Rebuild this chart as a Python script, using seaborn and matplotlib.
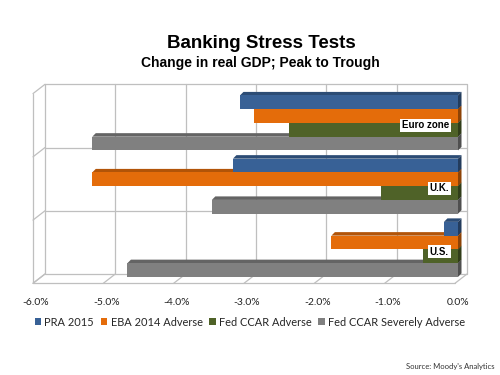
import numpy as np
import pandas as pd
import matplotlib
matplotlib.use("Agg")
import matplotlib.pyplot as plt
import seaborn as sns
from matplotlib.lines import Line2D
from matplotlib.patches import Polygon, Patch
from matplotlib.transforms import IdentityTransform
from matplotlib.colors import to_rgb

# ---- data ----
regions = ["Euro zone", "U.K.", "U.S."]
series = ["PRA 2015", "EBA 2014 Adverse", "Fed CCAR Adverse", "Fed CCAR Severely Adverse"]
pra_2015 = [-3.1, -3.2, -0.2]
eba_2014_adverse = [-2.9, -5.2, -1.8]
fed_ccar_adverse = [-2.4, -1.1, -0.5]
fed_ccar_severely_adverse = [-5.2, -3.5, -4.7]
xticks = [-6, -5, -4, -3, -2, -1, 0]
xticklabels = ["-6.0%", "-5.0%", "-4.0%", "-3.0%", "-2.0%", "-1.0%", "0.0%"]
colors = ["#386196", "#E46C0A", "#4F6228", "#808080"]

values = [pra_2015, eba_2014_adverse, fed_ccar_adverse, fed_ccar_severely_adverse]
df = pd.DataFrame({
    "region": [r for s in series for r in regions],
    "series": [s for s in series for r in regions],
    "value": [v for vals in values for v in vals],
})

sns.set_theme(style="white")
plt.rcParams["font.family"] = ["Liberation Sans", "DejaVu Sans"]

W, H = 500, 375
fig = plt.figure(figsize=(W / 100, H / 100), dpi=100)
fig.patch.set_facecolor("white")
ax = fig.add_axes([36 / W, 1 - 281 / H, (458 - 36) / W, (281 - 91.3) / H])

sns.barplot(data=df, y="region", x="value", hue="series", order=regions,
            hue_order=series, palette=colors, saturation=1, width=0.87,
            orient="h", ax=ax, legend=False, linewidth=0, zorder=3)

ax.set_xlim(-6, 0)
ax.set_ylim(2.5, -0.5)
ax.set_autoscale_on(False)
ax.patch.set_alpha(0)
for s in ax.spines.values():
    s.set_visible(False)
ax.set_xlabel("")
ax.set_ylabel("")
ax.set_yticks([])
ax.set_xticks(xticks)
ax.set_xticklabels(xticklabels, fontsize=7.5, family=["Lato", "DejaVu Sans"], color="#222222")
ax.tick_params(axis="x", length=0, pad=12)

# ---- pseudo-3D walls ----
BACK = (9, 7)
FRONT = (-3, -2.3)
gcol = "#BFBFBF"


def pt(x, y, off):
    X, Y = ax.transData.transform((x, y))
    return X + off[0], Y + off[1]


def seg(pts):
    xs = [p[0] for p in pts]
    ys = [p[1] for p in pts]
    ln = Line2D(xs, ys, transform=IdentityTransform(), color=gcol, lw=0.9,
                zorder=0.5, clip_on=False)
    ax.add_line(ln)


xmin, xmax = xticks[0], xticks[-1]
ytop, ybot = -0.5, len(regions) - 0.5
# back wall outline
seg([pt(xmin, ytop, BACK), pt(xmax, ytop, BACK), pt(xmax, ybot, BACK),
     pt(xmin, ybot, BACK), pt(xmin, ytop, BACK)])
for x in xticks[1:-1]:
    seg([pt(x, ytop, BACK), pt(x, ybot, BACK)])
for y in np.arange(0.5, len(regions) - 0.5, 1.0):
    seg([pt(xmin, y, BACK), pt(xmax, y, BACK)])
# left wall
seg([pt(xmin, ytop, FRONT), pt(xmin, ybot, FRONT)])
for y in np.arange(ytop, ybot + 0.01, 1.0):
    seg([pt(xmin, y, FRONT), pt(xmin, y, BACK)])
# floor
seg([pt(xmin, ybot, FRONT), pt(xmax, ybot, FRONT)])
for x in xticks:
    seg([pt(x, ybot, FRONT), pt(x, ybot, BACK)])

# ---- bar depth faces ----
d = 3.5
bars = [p for p in ax.patches if abs(p.get_width()) > 0]
for p in bars:
    x0, w, y0, h = p.get_x(), p.get_width(), p.get_y(), p.get_height()
    xa, ya = ax.transData.transform((min(x0, x0 + w), y0))
    xb, yb = ax.transData.transform((max(x0, x0 + w), y0 + h))
    L, R = min(xa, xb), max(xa, xb)
    B, T = min(ya, yb), max(ya, yb)
    c = np.array(to_rgb(p.get_facecolor()))
    top = Polygon([(L, T), (R, T), (R + d, T + d), (L + d, T + d)], closed=True,
                  transform=IdentityTransform(), fc=c * 0.78, ec="none", zorder=2.5,
                  clip_on=False)
    side = Polygon([(R, B), (R, T), (R + d, T + d), (R + d, B + d)], closed=True,
                   transform=IdentityTransform(), fc=c * 0.62, ec="none", zorder=2.6,
                   clip_on=False)
    ax.add_patch(top)
    ax.add_patch(side)

ax.set_xlim(-6, 0)
ax.set_ylim(2.5, -0.5)

# ---- category labels ----
for i, r in enumerate(regions):
    ax.annotate(r, xy=(0, i), xytext=(-9, -2.3), textcoords="offset pixels",
                ha="right", va="center", fontsize=7, fontweight="bold",
                color="black", zorder=6,
                bbox=dict(fc="white", ec="none", pad=1.2))

# ---- titles ----
fig.text(0.523, 1 - 43 / H, "Banking Stress Tests", ha="center", va="center",
         fontsize=13.5, fontweight="bold", color="black")
fig.text(0.521, 1 - 62.7 / H, "Change in real GDP; Peak to Trough", ha="center",
         va="center", fontsize=10, fontweight="bold", color="black")

# ---- legend ----
handles = [Patch(fc=c, ec="none") for c in colors]
fig.legend(handles, series, loc="center", bbox_to_anchor=(0.5, 1 - 322 / H),
           ncol=4, frameon=False, handlelength=0.6, handleheight=0.6,
           handletextpad=0.3, columnspacing=0.6,
           prop={"family": ["Lato", "DejaVu Sans"], "size": 7.9})

fig.text(0.99, 1 - 366 / H, "Source: Moody's Analytics", ha="right", va="center",
         fontsize=5.5, color="#333333", family=["Lato", "DejaVu Sans"])

fig.savefig("out.png", dpi=100, facecolor="white")
